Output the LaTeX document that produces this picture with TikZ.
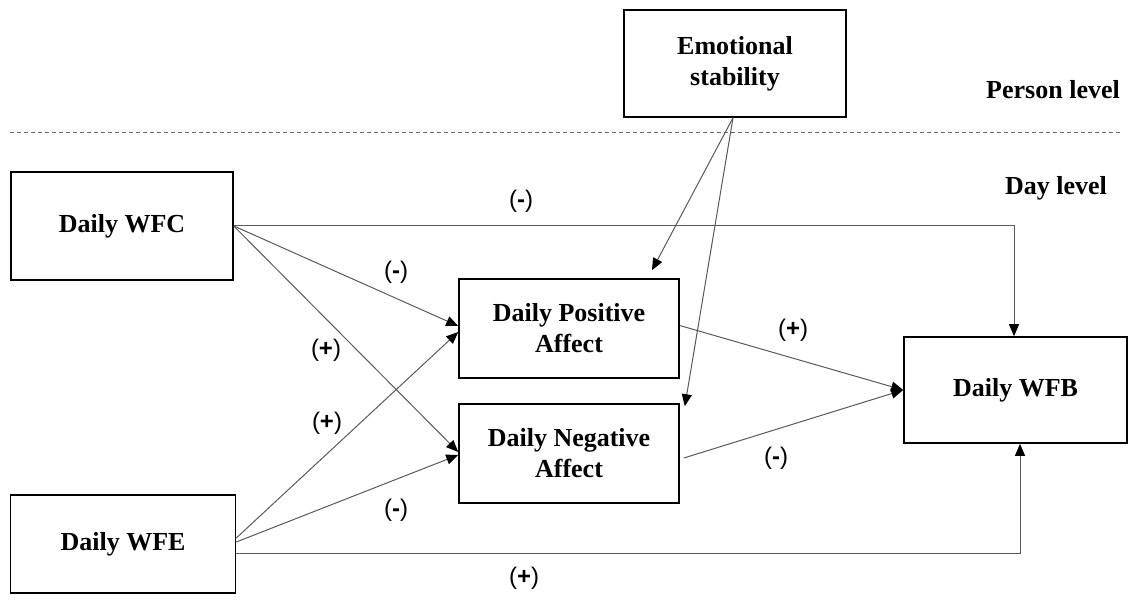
\documentclass[tikz,border=0pt]{standalone}
\usepackage{fontspec}
\setmainfont{Liberation Serif}
\newfontfamily\lblfont{Liberation Sans}
\usetikzlibrary{arrows.meta}
\begin{document}
\begin{tikzpicture}[x=1pt,y=-1pt,
  box/.style={draw=black, line width=1.6pt, align=center, inner sep=0pt,
    font=\bfseries\fontsize{26}{31}\selectfont},
  conn/.style={draw=black!65, line width=1pt, -{Triangle[length=12pt,width=10pt,fill=black,color=black]}},
  lbl/.style={font=\lblfont\fontsize{24}{28}\selectfont, inner sep=0pt},
  lvl/.style={font=\bfseries\fontsize{26}{31}\selectfont, inner sep=0pt}]
\useasboundingbox (0,0) rectangle (1131,601);

% boxes
\node[box, minimum width=222pt, minimum height=107pt] (es)  at (735,63.5) {Emotional\\stability};
\node[box, minimum width=222pt, minimum height=108pt] (wfc) at (122,226) {Daily WFC};
\node[box, minimum width=225pt, minimum height=98pt]  (wfe) at (123,544) {Daily WFE};
\node[box, minimum width=220pt, minimum height=99pt]  (pa)  at (569,328.5) {Daily Positive\\Affect};
\node[box, minimum width=220pt, minimum height=99pt]  (na)  at (569,453.5) {Daily Negative\\Affect};
\node[box, minimum width=223pt, minimum height=106pt] (wfb) at (1015.5,390) {Daily WFB};

% levels
\node[lvl] (person) at (1053,90) {Person level};
\node[lvl] (day) at (1056,188) {Day level};
\coordinate (dl) at (10,133);
\coordinate (dr) at (1120,133);
\draw[black!60, line width=1pt, dash pattern=on 4pt off 3pt] (dl) -- (dr);

% connectors
\draw[conn] (wfc.east) -| ([xshift=-1.5pt]wfb.north);
\draw[conn] (wfc.east) -- ([yshift=2.5pt]pa.west);
\draw[conn] (wfc.east) -- ([yshift=1.5pt]na.west);
\draw[conn] ([yshift=6pt]wfe.east) -- ([yshift=-3.5pt]pa.west);
\draw[conn] ([yshift=2pt]wfe.east) -- ([yshift=-1.5pt]na.west);
\draw[conn] ([yshift=-9pt]wfe.east) -| ([xshift=4.5pt]wfb.south);
\draw[conn] ([yshift=3pt]pa.east) -- (wfb.west);
\draw[conn] ([xshift=4pt,yshift=-4.5pt]na.east) -- (wfb.west);
\draw[conn] ([xshift=-2pt]es.south) -- ([xshift=83pt,yshift=8pt]pa.north);
\draw[conn] ([xshift=-2pt]es.south) -- ([xshift=5pt,yshift=-3pt]na.north east);

% labels
\node[lbl] (l1) at (521,201) {(\textbf{-})};
\node[lbl] (l2) at (396,272) {(\textbf{-})};
\node[lbl] (l3) at (326,350) {(\textbf{+})};
\node[lbl] (l4) at (327,423) {(\textbf{+})};
\node[lbl] (l5) at (396,510) {(\textbf{-})};
\node[lbl] (l6) at (524,578) {(\textbf{+})};
\node[lbl] (l7) at (793,330) {(\textbf{+})};
\node[lbl] (l8) at (776,458) {(\textbf{-})};
\end{tikzpicture}
\end{document}
